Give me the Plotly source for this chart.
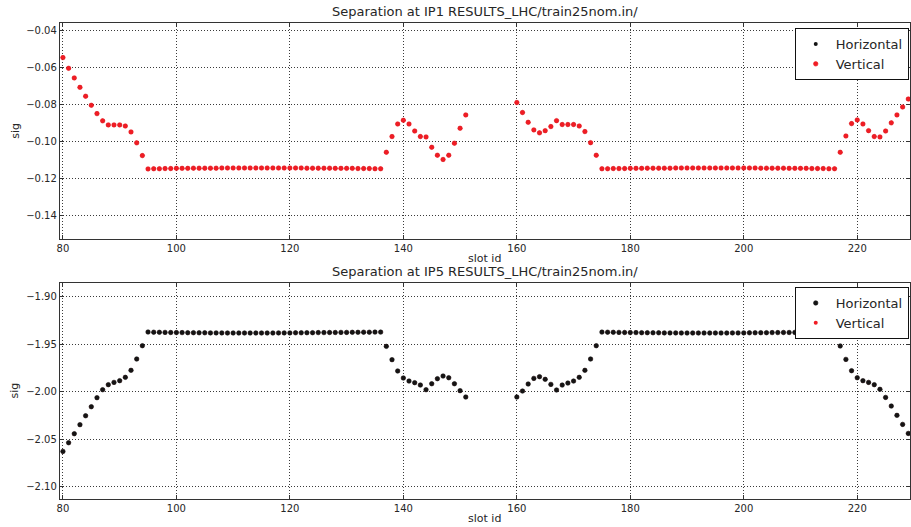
import plotly.graph_objects as go

# ---------------- data ----------------
slot_ids = list(range(80, 152)) + list(range(160, 230))

ip1_separation = [
    # slots 80-94
    -0.0544, -0.0602, -0.0654, -0.0705, -0.0753, -0.0802, -0.0847, -0.0886, -0.0908, -0.0908,
    -0.0908, -0.0914, -0.0946, -0.1005, -0.1074,
    # slots 95-136
    -0.1146, -0.1145, -0.1145, -0.1144, -0.1144, -0.1143, -0.1143, -0.1143, -0.1142, -0.1142,
    -0.1142, -0.1142, -0.1142, -0.1141, -0.1141, -0.1141, -0.1141, -0.1141, -0.1141, -0.1141,
    -0.1141, -0.1141, -0.1141, -0.1141, -0.1141, -0.1141, -0.1141, -0.1141, -0.1142, -0.1142,
    -0.1142, -0.1142, -0.1142, -0.1143, -0.1143, -0.1143, -0.1143, -0.1144, -0.1144, -0.1144,
    -0.1145, -0.1145,
    # slots 137-151
    -0.1056, -0.0971, -0.0903, -0.0883, -0.0903, -0.0941, -0.0971, -0.0973, -0.1029, -0.1072,
    -0.1095, -0.1072, -0.1007, -0.0926, -0.0854,
    # slots 160-174
    -0.0787, -0.0841, -0.0894, -0.0935, -0.0951, -0.0939, -0.0917, -0.0885, -0.0906, -0.0906,
    -0.0906, -0.0914, -0.0944, -0.1004, -0.1072,
    # slots 175-216
    -0.1145, -0.1145, -0.1144, -0.1144, -0.1144, -0.1143, -0.1143, -0.1143, -0.1142, -0.1142,
    -0.1142, -0.1142, -0.1142, -0.1141, -0.1141, -0.1141, -0.1141, -0.1141, -0.1141, -0.1141,
    -0.1141, -0.1141, -0.1141, -0.1141, -0.1141, -0.1141, -0.1141, -0.1141, -0.1142, -0.1142,
    -0.1142, -0.1142, -0.1142, -0.1143, -0.1143, -0.1143, -0.1143, -0.1144, -0.1144, -0.1144,
    -0.1145, -0.1145,
    # slots 217-229
    -0.1056, -0.0968, -0.0901, -0.0881, -0.0903, -0.0939, -0.0971, -0.0973, -0.0941, -0.0897,
    -0.0854, -0.0811, -0.0768,
]

ip5_separation = [
    # slots 80-94
    -2.0628, -2.0537, -2.0442, -2.0347, -2.0253, -2.0158, -2.0063, -1.9979, -1.9926, -1.9902,
    -1.9884, -1.9849, -1.9775, -1.9656, -1.9516,
    # slots 95-136
    -1.9372, -1.9374, -1.9375, -1.9376, -1.9377, -1.9378, -1.9378, -1.9379, -1.9379, -1.9380,
    -1.9380, -1.9381, -1.9381, -1.9381, -1.9382, -1.9382, -1.9382, -1.9382, -1.9382, -1.9382,
    -1.9382, -1.9382, -1.9382, -1.9381, -1.9381, -1.9381, -1.9380, -1.9380, -1.9379, -1.9379,
    -1.9378, -1.9378, -1.9377, -1.9377, -1.9376, -1.9376, -1.9375, -1.9375, -1.9374, -1.9374,
    -1.9373, -1.9373,
    # slots 137-151
    -1.9523, -1.9663, -1.9782, -1.9856, -1.9888, -1.9905, -1.9930, -1.9979, -1.9916, -1.9863,
    -1.9835, -1.9853, -1.9916, -1.9989, -2.0056,
    # slots 160-174
    -2.0056, -1.9993, -1.9919, -1.9860, -1.9842, -1.9870, -1.9923, -1.9982, -1.9930, -1.9909,
    -1.9888, -1.9849, -1.9775, -1.9656, -1.9516,
    # slots 175-216
    -1.9373, -1.9374, -1.9375, -1.9376, -1.9377, -1.9378, -1.9378, -1.9379, -1.9379, -1.9380,
    -1.9380, -1.9381, -1.9381, -1.9381, -1.9382, -1.9382, -1.9382, -1.9382, -1.9382, -1.9382,
    -1.9382, -1.9382, -1.9382, -1.9381, -1.9381, -1.9381, -1.9380, -1.9380, -1.9379, -1.9379,
    -1.9378, -1.9378, -1.9377, -1.9377, -1.9376, -1.9376, -1.9375, -1.9375, -1.9374, -1.9374,
    -1.9373, -1.9373,
    # slots 217-229
    -1.9519, -1.9660, -1.9779, -1.9853, -1.9884, -1.9902, -1.9926, -1.9975, -2.0060, -2.0151,
    -2.0249, -2.0344, -2.0439,
]

# In the reference the two planes overlap exactly in each panel
ip1_horizontal = ip1_separation
ip1_vertical = ip1_separation
ip5_horizontal = ip5_separation
ip5_vertical = ip5_separation

# tick values and labels (labels use the true minus sign, as in the reference)
x_tickvals = [80, 100, 120, 140, 160, 180, 200, 220]
x_ticktext = ["80", "100", "120", "140", "160", "180", "200", "220"]
ip1_tickvals = [-0.04, -0.06, -0.08, -0.10, -0.12, -0.14]
ip1_ticktext = ["\u22120.04", "\u22120.06", "\u22120.08", "\u22120.10", "\u22120.12", "\u22120.14"]
ip5_tickvals = [-1.90, -1.95, -2.00, -2.05, -2.10]
ip5_ticktext = ["\u22121.90", "\u22121.95", "\u22122.00", "\u22122.05", "\u22122.10"]

titles = ["Separation at IP1 RESULTS_LHC/train25nom.in/",
          "Separation at IP5 RESULTS_LHC/train25nom.in/"]
series_names = ["Horizontal", "Vertical"]

# ---------------- styling ----------------
FONT = "DejaVu Sans"
TXT = "#262626"
RED = "#f01c24"
BLACK = "#141414"
W, H = 911, 527

under_marker = lambda c: dict(color=c, size=4)
over_marker = lambda c: dict(color=c, size=4.5, line=dict(color=c, width=0.6))

fig = go.Figure()

# top panel: horizontal first (hidden), vertical on top
fig.add_trace(go.Scatter(x=slot_ids, y=ip1_horizontal, mode="markers", name=series_names[0],
                         marker=under_marker(BLACK), xaxis="x", yaxis="y",
                         legend="legend", legendrank=1))
fig.add_trace(go.Scatter(x=slot_ids, y=ip1_vertical, mode="markers", name=series_names[1],
                         marker=over_marker(RED), xaxis="x", yaxis="y",
                         legend="legend", legendrank=2))
# bottom panel: vertical first (hidden), horizontal on top
fig.add_trace(go.Scatter(x=slot_ids, y=ip5_vertical, mode="markers", name=series_names[1],
                         marker=under_marker(RED), xaxis="x2", yaxis="y2",
                         legend="legend2", legendrank=2))
fig.add_trace(go.Scatter(x=slot_ids, y=ip5_horizontal, mode="markers", name=series_names[0],
                         marker=over_marker(BLACK), xaxis="x2", yaxis="y2",
                         legend="legend2", legendrank=1))

x_left, x_right = 57 / W, 910 / W
top_dom = [1 - 239 / H, 1 - 23 / H]
bot_dom = [1 - 498.7 / H, 1 - 282.7 / H]

axis_common = dict(
    showline=True, linecolor="#333333", linewidth=1, mirror="ticks",
    ticks="inside", ticklen=4, tickcolor="#333333", tickwidth=1,
    showgrid=True, gridcolor="#3a3a3a", gridwidth=1, griddash="1px,2px",
    zeroline=False, tickfont=dict(family=FONT, size=10, color=TXT),
)

legend_common = dict(
    x=0.9975, xanchor="right", yanchor="top",
    bordercolor="#111111", borderwidth=1, bgcolor="white",
    font=dict(family=FONT, size=13, color=TXT), tracegroupgap=0, itemwidth=30,
)

fig.update_layout(
    width=W, height=H,
    margin=dict(l=0, r=0, t=0, b=0),
    paper_bgcolor="white", plot_bgcolor="white",
    font=dict(family=FONT, color=TXT),
    xaxis=dict(domain=[x_left, x_right], anchor="y", range=[79.45, 229.3],
               tickvals=x_tickvals, ticktext=x_ticktext, **axis_common),
    yaxis=dict(domain=top_dom, anchor="x", range=[-0.1525, -0.0357],
               tickvals=ip1_tickvals, ticktext=ip1_ticktext, **axis_common),
    xaxis2=dict(domain=[x_left, x_right], anchor="y2", range=[79.45, 229.3],
                tickvals=x_tickvals, ticktext=x_ticktext, **axis_common),
    yaxis2=dict(domain=bot_dom, anchor="x2", range=[-2.1126, -1.8853],
                tickvals=ip5_tickvals, ticktext=ip5_ticktext, **axis_common),
    showlegend=True,
    legend=dict(y=1 - 28 / H, **legend_common),
    legend2=dict(y=1 - 287 / H, **legend_common),
)

annotations = []
for i, (xr, yr) in enumerate([("x domain", "y domain"), ("x2 domain", "y2 domain")]):
    annotations.append(dict(text=titles[i], xref=xr, yref=yr, x=0.5, y=1, yshift=11.5,
                            xanchor="center", yanchor="middle", showarrow=False,
                            font=dict(family=FONT, size=13, color=TXT)))
    annotations.append(dict(text="slot id", xref=xr, yref=yr, x=0.5, y=0, yshift=-19.5,
                            xanchor="center", yanchor="middle", showarrow=False,
                            font=dict(family=FONT, size=11, color=TXT)))
    annotations.append(dict(text="sig", xref=xr, yref=yr, x=0, y=0.5, xshift=-45,
                            xanchor="center", yanchor="middle", showarrow=False, textangle=-90,
                            font=dict(family=FONT, size=11, color=TXT)))
fig.update_layout(annotations=annotations)

fig.write_html("out.html")
